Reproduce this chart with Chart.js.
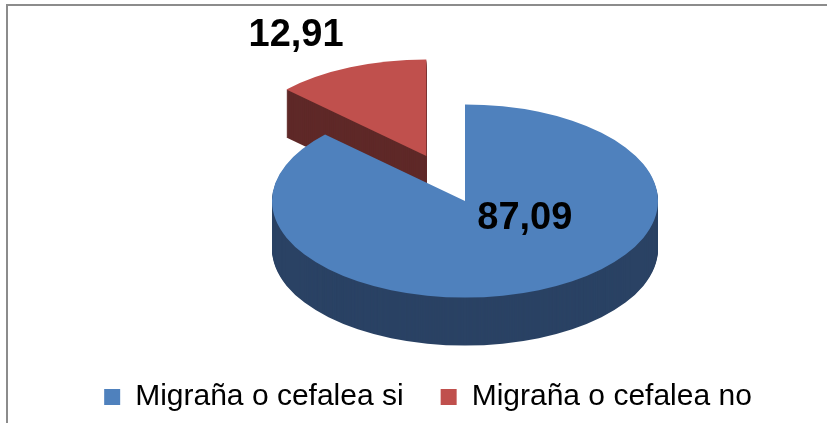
<!DOCTYPE html>
<html>
<head>
<meta charset="utf-8">
<script src="https://cdn.jsdelivr.net/npm/chart.js@4/dist/chart.umd.min.js"></script>
<style>
  html, body { margin: 0; padding: 0; background: #ffffff; }
  canvas { display: block; }
</style>
</head>
<body>
<canvas id="c" width="827" height="423"></canvas>
<script>
// ---- data ----
const categories = ['Migraña o cefalea si', 'Migraña o cefalea no'];
const values = [87.09, 12.91];
const valueLabels = ['87,09', '12,91'];

// ---- styles ----
const topColors = ['#4F81BD', '#C0504D'];
const sideColors = ['#2A4264', '#5F2928'];
const sliceOffsets = [0, 98];

const pie3d = {
  id: 'pie3d',
  beforeDraw(chart) {
    const ctx = chart.ctx;
    ctx.save();
    ctx.strokeStyle = '#8c8c8c';
    ctx.lineWidth = 2;
    ctx.beginPath();
    ctx.moveTo(7, 423);
    ctx.lineTo(7, 5);
    ctx.lineTo(827, 5);
    ctx.stroke();
    ctx.restore();
  },
  afterLayout(chart, args, opts) {
    const lg = chart.legend;
    if (lg) { lg.left += opts.legendShift; lg.right += opts.legendShift; }
  },
  beforeDatasetsDraw(chart, args, opts) {
    const ctx = chart.ctx;
    const meta = chart.getDatasetMeta(0);
    const tilt = opts.tilt, depth = opts.depth;
    const sector = (arc, dy) => {
      const r = arc.outerRadius;
      const m = (arc.startAngle + arc.endAngle) / 2;
      const off = arc.options.offset || 0;
      const cx = arc.x + off * Math.cos(m);
      const cy = arc.y + tilt * off * Math.sin(m) + dy;
      ctx.beginPath();
      ctx.moveTo(cx, cy);
      ctx.ellipse(cx, cy, r, r * tilt, 0, arc.startAngle, arc.endAngle, false);
      ctx.closePath();
    };
    // draw back slices first
    const order = meta.data.map((a, i) => i).sort((a, b) => {
      const ma = Math.sin((meta.data[a].startAngle + meta.data[a].endAngle) / 2);
      const mb = Math.sin((meta.data[b].startAngle + meta.data[b].endAngle) / 2);
      return ma - mb;
    });
    ctx.save();
    order.forEach(i => {
      const arc = meta.data[i];
      ctx.fillStyle = sideColors[i];
      for (let d = depth; d >= 1; d--) { sector(arc, d); ctx.fill(); }
      ctx.fillStyle = topColors[i];
      sector(arc, 0); ctx.fill();
    });
    // value labels
    ctx.fillStyle = '#000';
    ctx.font = 'bold 38px "Liberation Sans", Arial, sans-serif';
    ctx.textAlign = 'center';
    ctx.textBaseline = 'middle';
    meta.data.forEach((arc, i) => {
      const m = (arc.startAngle + arc.endAngle) / 2;
      const off = arc.options.offset || 0;
      const cx = arc.x + off * Math.cos(m);
      const cy = arc.y + tilt * off * Math.sin(m);
      const p = opts.labelPos[i];
      ctx.fillText(valueLabels[i], cx + p[0] * arc.outerRadius, cy + p[1] * arc.outerRadius);
    });
    ctx.restore();
    return false;
  }
};

new Chart(document.getElementById('c'), {
  type: 'pie',
  data: {
    labels: categories,
    datasets: [{
      data: values,
      backgroundColor: topColors,
      borderWidth: 0,
      offset: sliceOffsets
    }]
  },
  options: {
    responsive: false,
    animation: false,
    radius: 193,
    layout: { padding: { left: 103, right: 0, top: 57, bottom: 1 } },
    plugins: {
      tooltip: { enabled: false },
      pie3d: { tilt: 0.5, depth: 48, legendShift: -37, labelPos: [[0.31, 0.09], [-0.675, -0.625]] },
      legend: {
        position: 'bottom',
        labels: {
          color: '#000',
          boxWidth: 16,
          boxHeight: 16,
          padding: 37,
          font: { family: '"Liberation Sans", Arial, sans-serif', size: 30 }
        }
      }
    }
  },
  plugins: [pie3d]
});
</script>
</body>
</html>
